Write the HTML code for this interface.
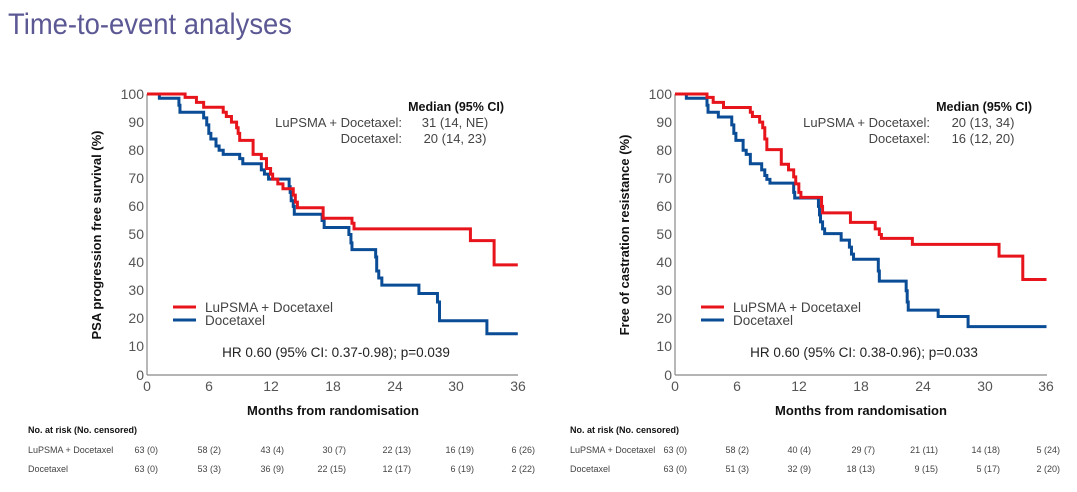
<!DOCTYPE html>
<html><head><meta charset="utf-8"><style>
html,body{margin:0;padding:0;background:#fff;}
svg{display:block;font-family:"Liberation Sans",Arial,sans-serif;}
</style></head><body>
<svg width="1077" height="492" viewBox="0 0 1077 492" xmlns="http://www.w3.org/2000/svg">
<text x="8" y="34" font-size="30" fill="#5b5894" textLength="284" lengthAdjust="spacingAndGlyphs">Time-to-event analyses</text>

<!-- LEFT CHART -->
<g fill="#555" font-size="14" text-anchor="end">
<text x="144" y="99">100</text><text x="144" y="127">90</text><text x="144" y="155">80</text><text x="144" y="183">70</text><text x="144" y="211">60</text><text x="144" y="239">50</text><text x="144" y="267">40</text><text x="144" y="295">30</text><text x="144" y="323">20</text><text x="144" y="351">10</text><text x="144" y="380">0</text>
</g>
<g fill="#555" font-size="14" text-anchor="middle">
<text x="147" y="391">0</text><text x="209" y="391">6</text><text x="271" y="391">12</text><text x="333" y="391">18</text><text x="395" y="391">24</text><text x="456" y="391">30</text><text x="518" y="391">36</text>
</g>
<g stroke="#888" stroke-width="1.2">
<line x1="147" y1="94" x2="147" y2="375"/><line x1="147" y1="375" x2="518" y2="375"/>
</g>
<text transform="translate(101,235) rotate(-90)" text-anchor="middle" font-size="13" font-weight="bold" fill="#111">PSA progression free survival  (%)</text>
<text x="333" y="415" text-anchor="middle" font-size="13" font-weight="bold" fill="#111">Months from randomisation</text>
<text x="504" y="111" text-anchor="end" font-size="12.5" font-weight="bold" fill="#111">Median (95% CI)</text>
<g font-size="13" fill="#444">
<text x="402" y="127" text-anchor="end">LuPSMA + Docetaxel:</text><text x="455" y="127" text-anchor="middle">31 (14, NE)</text>
<text x="402" y="143" text-anchor="end">Docetaxel:</text><text x="455" y="143" text-anchor="middle">20 (14, 23)</text>
</g>
<line x1="173" y1="307" x2="196" y2="307" stroke="#e8141b" stroke-width="3"/>
<line x1="173" y1="320" x2="196" y2="320" stroke="#0a4d96" stroke-width="3"/>
<text x="205" y="312" font-size="13.5" fill="#444">LuPSMA + Docetaxel</text>
<text x="205" y="325" font-size="13.5" fill="#444">Docetaxel</text>
<text x="336" y="357" text-anchor="middle" font-size="13.5" fill="#222">HR 0.60 (95% CI: 0.37-0.98); p=0.039</text>
<g transform="translate(147,375) scale(10.3,-2.81)" fill="none" stroke-width="3" stroke-linejoin="miter">
<polyline vector-effect="non-scaling-stroke" stroke="#0a4d96" points="0,100 1.2,100 1.2,98.5 3.1,98.5 3.1,96 3.2,96 3.2,93.5 5.5,93.5 5.5,91.5 5.8,91.5 5.8,89 6,89 6,86 6.2,86 6.2,84 6.7,84 6.7,81.5 7,81.5 7,80 7.4,80 7.4,78.5 9,78.5 9,77 9.3,77 9.3,75.2 11.1,75.2 11.1,73 11.4,73 11.4,71.5 11.8,71.5 11.8,69.7 13.8,69.7 13.8,67 13.9,67 13.9,65 14,65 14,62 14.2,62 14.2,60 14.3,60 14.3,57.2 17,57.2 17,55 17.2,55 17.2,52.5 19.6,52.5 19.6,50 19.8,50 19.8,47 19.9,47 19.9,44.6 22.2,44.6 22.2,42 22.3,42 22.3,37 22.5,37 22.5,34.5 22.8,34.5 22.8,32 26.4,32 26.4,29 28.2,29 28.2,26 28.4,26 28.4,19.3 33,19.3 33,14.7 36,14.7"/>
<polyline vector-effect="non-scaling-stroke" stroke="#e8141b" points="0,100 3.7,100 3.7,98.8 4.8,98.8 4.8,97 5.5,97 5.5,95.3 7.4,95.3 7.4,93.5 7.7,93.5 7.7,92 8.2,92 8.2,90 8.7,90 8.7,88 8.85,88 8.85,86 9,86 9,83.5 10.3,83.5 10.3,78.5 11.1,78.5 11.1,77 11.6,77 11.6,73.5 12,73.5 12,71.5 12.2,71.5 12.2,69.7 12.7,69.7 12.7,68 13.2,68 13.2,66.3 14.2,66.3 14.2,64 14.4,64 14.4,61.5 14.6,61.5 14.6,59.5 17.1,59.5 17.1,55.8 19.9,55.8 19.9,54 20.1,54 20.1,52 31.4,52 31.4,47.8 33.7,47.8 33.7,39.2 36,39.2"/>
</g>
<text x="28" y="433" font-size="9" font-weight="bold" fill="#111">No. at risk (No. censored)</text>
<g font-size="9" fill="#444">
<text x="28" y="453">LuPSMA + Docetaxel</text><text x="28" y="472">Docetaxel</text>
</g>
<g font-size="9" fill="#444" text-anchor="end">
<text x="158" y="453">63 (0)</text><text x="221" y="453">58 (2)</text><text x="284" y="453">43 (4)</text><text x="346" y="453">30 (7)</text><text x="411" y="453">22 (13)</text><text x="474" y="453">16 (19)</text><text x="535" y="453">6 (26)</text>
<text x="158" y="472">63 (0)</text><text x="221" y="472">53 (3)</text><text x="284" y="472">36 (9)</text><text x="346" y="472">22 (15)</text><text x="411" y="472">12 (17)</text><text x="474" y="472">6 (19)</text><text x="535" y="472">2 (22)</text>
</g>

<!-- RIGHT CHART -->
<g fill="#555" font-size="14" text-anchor="end">
<text x="672" y="99">100</text><text x="672" y="127">90</text><text x="672" y="155">80</text><text x="672" y="183">70</text><text x="672" y="211">60</text><text x="672" y="239">50</text><text x="672" y="267">40</text><text x="672" y="295">30</text><text x="672" y="323">20</text><text x="672" y="351">10</text><text x="672" y="380">0</text>
</g>
<g fill="#555" font-size="14" text-anchor="middle">
<text x="675" y="391">0</text><text x="737" y="391">6</text><text x="799" y="391">12</text><text x="861" y="391">18</text><text x="923" y="391">24</text><text x="985" y="391">30</text><text x="1046" y="391">36</text>
</g>
<g stroke="#888" stroke-width="1.2">
<line x1="675" y1="94" x2="675" y2="375"/><line x1="675" y1="375" x2="1047" y2="375"/>
</g>
<text transform="translate(629,235) rotate(-90)" text-anchor="middle" font-size="13" font-weight="bold" fill="#111">Free of castration resistance  (%)</text>
<text x="861" y="415" text-anchor="middle" font-size="13" font-weight="bold" fill="#111">Months from randomisation</text>
<text x="1032" y="111" text-anchor="end" font-size="12.5" font-weight="bold" fill="#111">Median (95% CI)</text>
<g font-size="13" fill="#444">
<text x="930" y="127" text-anchor="end">LuPSMA + Docetaxel:</text><text x="983" y="127" text-anchor="middle">20 (13, 34)</text>
<text x="930" y="143" text-anchor="end">Docetaxel:</text><text x="983" y="143" text-anchor="middle">16 (12, 20)</text>
</g>
<line x1="701" y1="307" x2="724" y2="307" stroke="#e8141b" stroke-width="3"/>
<line x1="701" y1="320" x2="724" y2="320" stroke="#0a4d96" stroke-width="3"/>
<text x="733" y="312" font-size="13.5" fill="#444">LuPSMA + Docetaxel</text>
<text x="733" y="325" font-size="13.5" fill="#444">Docetaxel</text>
<text x="864" y="357" text-anchor="middle" font-size="13.5" fill="#222">HR 0.60 (95% CI: 0.38-0.96); p=0.033</text>
<g transform="translate(675,375) scale(10.32,-2.81)" fill="none" stroke-width="3">
<polyline vector-effect="non-scaling-stroke" stroke="#0a4d96" points="0,100 1.1,100 1.1,98.5 3.1,98.5 3.1,96 3.2,96 3.2,93.5 4.2,93.5 4.2,91.8 5.5,91.8 5.5,89 5.7,89 5.7,86 5.9,86 5.9,83.5 6.6,83.5 6.6,80 6.9,80 6.9,78.5 7.3,78.5 7.3,75.2 8.4,75.2 8.4,73 8.7,73 8.7,71 8.9,71 8.9,69.6 9.2,69.6 9.2,68.3 11.5,68.3 11.5,65 11.6,65 11.6,63 13.9,63 13.9,60 14,60 14,57 14.1,57 14.1,54.5 14.3,54.5 14.3,52 14.5,52 14.5,50.3 16.1,50.3 16.1,48 16.9,48 16.9,45.5 17.1,45.5 17.1,43 17.3,43 17.3,41.2 19.7,41.2 19.7,37 19.8,37 19.8,33.4 22.4,33.4 22.4,30 22.5,30 22.5,26 22.6,26 22.6,23.1 25.5,23.1 25.5,20.8 28.4,20.8 28.4,17.2 36,17.2"/>
<polyline vector-effect="non-scaling-stroke" stroke="#e8141b" points="0,100 3.1,100 3.1,98.8 3.7,98.8 3.7,97 4.7,97 4.7,95.2 7.3,95.2 7.3,93.5 7.5,93.5 7.5,92 8.2,92 8.2,90 8.5,90 8.5,88 8.7,88 8.7,84 8.9,84 8.9,80.2 10.3,80.2 10.3,75 11,75 11,73 11.5,73 11.5,70.5 11.7,70.5 11.7,68 12,68 12,65 12.2,65 12.2,63.2 14.2,63.2 14.2,60 14.3,60 14.3,57.7 17,57.7 17,54.3 19.4,54.3 19.4,52 19.8,52 19.8,50 20,50 20,48.6 23,48.6 23,46.5 31.4,46.5 31.4,42.3 33.7,42.3 33.7,34 36,34"/>
</g>
<text x="570" y="433" font-size="9" font-weight="bold" fill="#111">No. at risk (No. censored)</text>
<g font-size="9" fill="#444">
<text x="570" y="453">LuPSMA + Docetaxel</text><text x="570" y="472">Docetaxel</text>
</g>
<g font-size="9" fill="#444" text-anchor="end">
<text x="687" y="453">63 (0)</text><text x="749" y="453">58 (2)</text><text x="811" y="453">40 (4)</text><text x="875" y="453">29 (7)</text><text x="938" y="453">21 (11)</text><text x="1000" y="453">14 (18)</text><text x="1060" y="453">5 (24)</text>
<text x="687" y="472">63 (0)</text><text x="749" y="472">51 (3)</text><text x="811" y="472">32 (9)</text><text x="875" y="472">18 (13)</text><text x="938" y="472">9 (15)</text><text x="1000" y="472">5 (17)</text><text x="1060" y="472">2 (20)</text>
</g>
</svg>
</body></html>
